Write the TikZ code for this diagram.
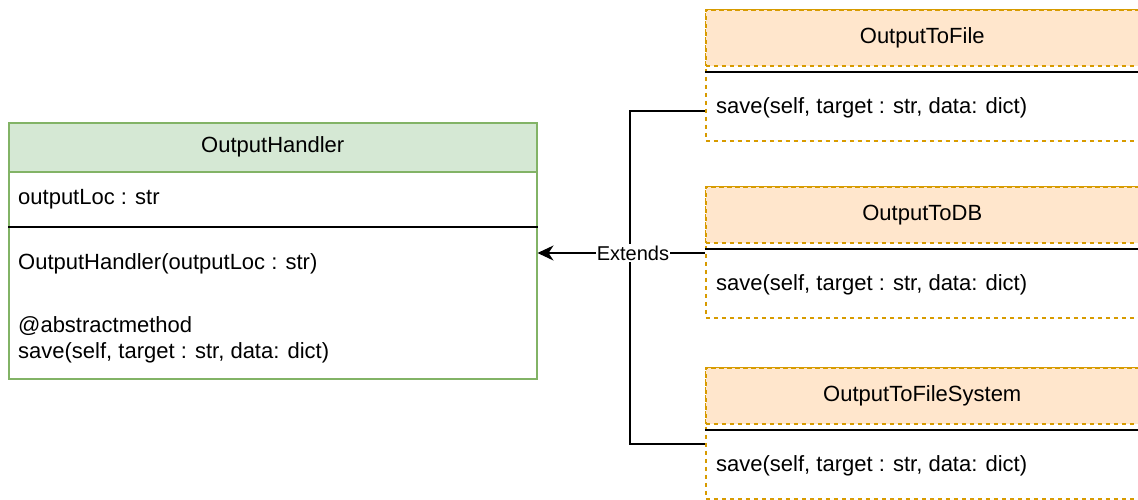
\documentclass[tikz,border=0pt]{standalone}
\usepackage{fontspec}
\setmainfont{Liberation Sans}
\usetikzlibrary{arrows.meta}

\definecolor{handlerFill}{HTML}{D5E8D4}
\definecolor{handlerLine}{HTML}{82B366}
\definecolor{outFill}{HTML}{FFE6CC}
\definecolor{outLine}{HTML}{D79B00}

\tikzset{
  classbox/.style={rectangle, anchor=north west, inner sep=0pt, line width=1.5pt,
    fill=white, font=\fontsize{22}{26}\selectfont},
  handlerbox/.style={classbox, draw=handlerLine},
  outbox/.style={classbox, draw=outLine, dash pattern=on 4.5pt off 3.5pt},
  member/.style={anchor=west, inner sep=0pt, align=left, yshift=-2pt, font=\fontsize{22}{26}\selectfont},
  separator/.style={line width=1.5pt, black},
  extendsline/.style={line width=1.5pt, black},
  edgeLabel/.style={fill=white, inner xsep=0.5pt, inner ysep=2pt, font=\fontsize{20}{24}\selectfont},
}

\begin{document}
\begin{tikzpicture}[x=1pt, y=-1pt]
    \useasboundingbox (0,0) rectangle (1138,499);

    % Define nodes
    \node[handlerbox, minimum width=528pt, minimum height=207pt] (handlerBody) at (8,171) {};
    \node[handlerbox, fill=handlerFill, minimum width=528pt, minimum height=49pt] (handlerHead) at (8,122) {OutputHandler};
    \draw[separator] (handlerBody.west |- 0,227) -- (handlerBody.east |- 0,227);

    \node[member] (outputLoc) at (18,197) {outputLoc : str};
    \node[member] (handlerInit) at (18,262) {OutputHandler(outputLoc : str)};
    \node[member] (handlerSave) at (18,338) {@abstractmethod\\save(self, target : str, data: dict)};

    \foreach \name/\cname/\ytop in {file/OutputToFile/9, db/OutputToDB/186, fs/OutputToFileSystem/367} {
        \node[outbox, minimum width=433pt, minimum height=131pt] (\name) at (705,\ytop) {};
        \node[outbox, fill=outFill, minimum width=433pt, minimum height=56pt] (\name Head) at (705,\ytop) {\cname};
        \draw[separator] (\name.west |- 0,\ytop+63) -- (\name.east |- 0,\ytop+63);
        \node[member] (\name Save) at (716,\ytop+97) {save(self, target : str, data: dict)};
    }

    % Draw edges
    \coordinate (junction) at (630,253);
    \draw[extendsline] (file.west |- 0,111) -| (junction);
    \draw[extendsline] (fs.west |- 0,444) -| (junction);
    \draw[extendsline, -{Stealth[length=16pt, width=15pt, inset=5pt]}]
        (db.west |- junction) -- (handlerBody.east |- junction)
        node[edgeLabel, pos=0.43] (extends) {Extends};
\end{tikzpicture}
\end{document}
